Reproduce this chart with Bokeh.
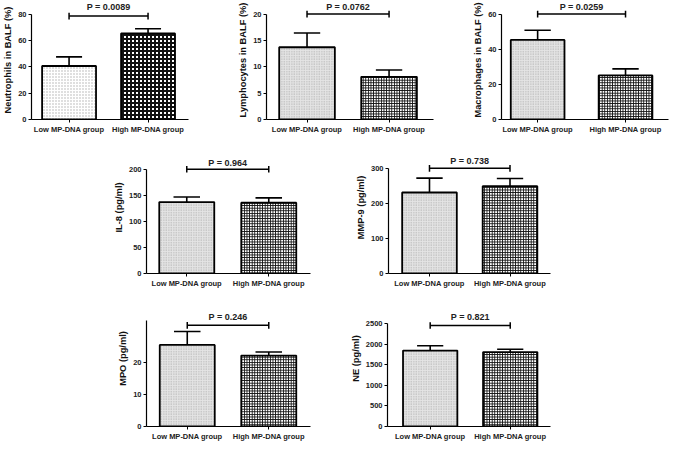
from bokeh.plotting import figure
from bokeh.layouts import column, row
from bokeh.models import Spacer, FixedTicker, Range1d
from bokeh.core.properties import value
from bokeh.embed import file_html
from bokeh.resources import INLINE

# ---------------- data ----------------
groups = ["Low MP-DNA group", "High MP-DNA group"]

neutrophils_mean = [40.6, 65.3]
neutrophils_sem = [6.9, 3.5]
lymphocytes_mean = [13.7, 8.1]
lymphocytes_sem = [2.7, 1.3]
macrophages_mean = [45.3, 25.1]
macrophages_sem = [5.5, 3.7]
il8_mean = [137.0, 135.7]
il8_sem = [9.7, 9.3]
mmp9_mean = [231.0, 249.0]
mmp9_sem = [41.0, 22.0]
mpo_mean = [25.4, 22.1]
mpo_sem = [4.2, 1.1]
ne_mean = [1845.0, 1808.0]
ne_sem = [115.0, 67.0]

p_values = ["P = 0.0089", "P = 0.0762", "P = 0.0259", "P = 0.964",
            "P = 0.738", "P = 0.246", "P = 0.821"]

y_labels = ["Neutrophils in BALF (%)", "Lymphocytes in BALF (%)",
            "Macrophages in BALF (%)", "IL-8 (pg/ml)", "MMP-9 (pg/ml)",
            "MPO (pg/ml)", "NE (pg/ml)"]

neutrophils_ticks = [0, 20, 40, 60, 80]
lymphocytes_ticks = [0, 5, 10, 15, 20]
macrophages_ticks = [0, 20, 40, 60]
il8_ticks = [0, 50, 100, 150, 200]
mmp9_ticks = [0, 100, 200, 300]
mpo_ticks = [0, 10, 20]
ne_ticks = [0, 500, 1000, 1500, 2000, 2500]

# ---------------- layout helpers ----------------
SX = 669 / 685
SY = 443 / 459
FONT = "Liberation Sans"


def X(v):
    return int(round(v * SX))


def Y(v):
    return int(round(v * SY))


def make_panel(geom, means, sems, ylabel, ptext, ticks, axis_top,
               bracket_val, text_val, coarse=False):
    (left, right, top, bottom, axis_x, axis_end, c1, c2, bar_px,
     y0, tick_y, tick_val) = geom
    unit = c2 - c1
    xs = 1 - (c1 - axis_x) / unit
    xe = 2 + (axis_end - c2) / unit
    ppu = (y0 - tick_y) / tick_val
    ye = (y0 - top) / ppu
    bw = bar_px / unit
    cap = 27 / unit
    tick_d = 3.5 / ppu

    p = figure(width=X(right) - X(left), height=Y(bottom) - Y(top),
               x_range=Range1d(xs, xe), y_range=Range1d(0, ye),
               output_backend="svg", toolbar_location=None,
               min_border=0,
               min_border_left=X(axis_x) - X(left),
               min_border_right=X(right) - X(axis_end),
               min_border_top=0,
               min_border_bottom=Y(bottom) - Y(y0))
    p.outline_line_color = None
    p.xgrid.visible = False
    p.ygrid.visible = False
    p.background_fill_color = "white"
    p.border_fill_color = "white"

    xs_c = [1, 2]
    tops = [m + s for m, s in zip(means, sems)]

    # error bars (upper only)
    p.segment(x0=xs_c, y0=means, x1=xs_c, y1=tops, line_color="black",
              line_width=1.6)
    p.segment(x0=[x - cap / 2 for x in xs_c], y0=tops,
              x1=[x + cap / 2 for x in xs_c], y1=tops, line_color="black",
              line_width=1.6)

    # bars
    low_fill = "#ffffff" if coarse else "#e4e4e4"
    p.vbar(x=[1], top=[means[0]], width=bw, bottom=0,
           fill_color=low_fill, line_color="black", line_width=1.8,
           hatch_pattern="dot", hatch_color="#9a9a9a",
           hatch_scale=3 if coarse else 2.5, hatch_weight=0.6,
           hatch_alpha=0.8)
    p.vbar(x=[2], top=[means[1]], width=bw, bottom=0,
           fill_color="white", line_color="black", line_width=1.8,
           hatch_pattern="cross", hatch_color="#111111",
           hatch_scale=4 if coarse else 2.6,
           hatch_weight=2 if coarse else 1.1)

    # significance bracket
    p.segment(x0=[1], y0=[bracket_val], x1=[2], y1=[bracket_val],
              line_color="black", line_width=1.5)
    p.segment(x0=xs_c, y0=[bracket_val - tick_d] * 2, x1=xs_c,
              y1=[bracket_val + tick_d] * 2, line_color="black",
              line_width=1.5)
    p.text(x=[1.5], y=[text_val], text=[ptext], text_align="center",
           text_baseline="middle", text_font=value(FONT),
           text_font_style="bold", text_font_size="9px", text_color="#222222")

    # axes
    p.xaxis.ticker = FixedTicker(ticks=[1, 2])
    p.xaxis.major_label_overrides = {1: groups[0], 2: groups[1]}
    p.yaxis.ticker = FixedTicker(ticks=ticks)
    p.yaxis.bounds = (0, axis_top)
    p.yaxis.axis_label = ylabel
    for ax in (p.xaxis, p.yaxis):
        ax.axis_line_color = "black"
        ax.axis_line_width = 1.2
        ax.major_tick_line_color = "black"
        ax.major_tick_line_width = 1
        ax.major_tick_in = 0
        ax.major_tick_out = 3
        ax.minor_tick_line_color = None
        ax.major_label_text_font = FONT
        ax.major_label_text_font_style = "bold"
        ax.major_label_text_font_size = "7.5px"
        ax.major_label_text_color = "#222222"
        ax.major_label_standoff = 2
    p.yaxis.axis_label_text_font = FONT
    p.yaxis.axis_label_text_font_style = "bold"
    p.yaxis.axis_label_text_font_size = "9.3px"
    p.yaxis.axis_label_text_color = "#111111"
    p.yaxis.axis_label_standoff = 2
    return p


# geometry: left, right, top, bottom, axis_x, axis_end, c1, c2, bar_px,
#           y0, tick_y, tick_val   (reference-pixel layout)
f1 = make_panel((0, 210, 0, 146, 30, 193, 69, 151, 56, 123, 14, 80),
                neutrophils_mean, neutrophils_sem, y_labels[0], p_values[0],
                neutrophils_ticks, 80, 78.5, 85.0, coarse=True)
f2 = make_panel((210, 455, 0, 146, 272, 443, 313.5, 397.5, 57, 123, 14, 20),
                lymphocytes_mean, lymphocytes_sem, y_labels[1], p_values[1],
                lymphocytes_ticks, 20, 20, 21.3)
f3 = make_panel((455, 685, 0, 146, 513, 684, 550, 640, 55, 123, 14, 60),
                macrophages_mean, macrophages_sem, y_labels[2], p_values[2],
                macrophages_ticks, 60, 60, 63.9)
f4 = make_panel((110, 355, 146, 300, 150, 317, 191, 274.5, 56, 284, 175, 200),
                il8_mean, il8_sem, y_labels[3], p_values[3],
                il8_ticks, 200, 200, 212)
f5 = make_panel((355, 600, 146, 300, 397, 563, 439, 521.5, 56, 284, 174, 300),
                mmp9_mean, mmp9_sem, y_labels[4], p_values[4],
                mmp9_ticks, 300, 300, 320)
f6 = make_panel((110, 355, 300, 459, 150, 317, 191.5, 274.5, 56, 444, 376, 20),
                mpo_mean, mpo_sem, y_labels[5], p_values[5],
                mpo_ticks, 33, 31.5, 34.2)
f7 = make_panel((355, 600, 300, 459, 395, 563, 439, 521.5, 56, 444, 335, 2500),
                ne_mean, ne_sem, y_labels[6], p_values[6],
                ne_ticks, 2500, 2454, 2661)

r1 = row(f1, f2, f3)
r2 = row(Spacer(width=X(110), height=Y(300) - Y(146)), f4, f5)
r3 = row(Spacer(width=X(110), height=Y(459) - Y(300)), f6, f7)
layout = column(r1, r2, r3)

open("out.html", "w").write(file_html(layout, INLINE))
